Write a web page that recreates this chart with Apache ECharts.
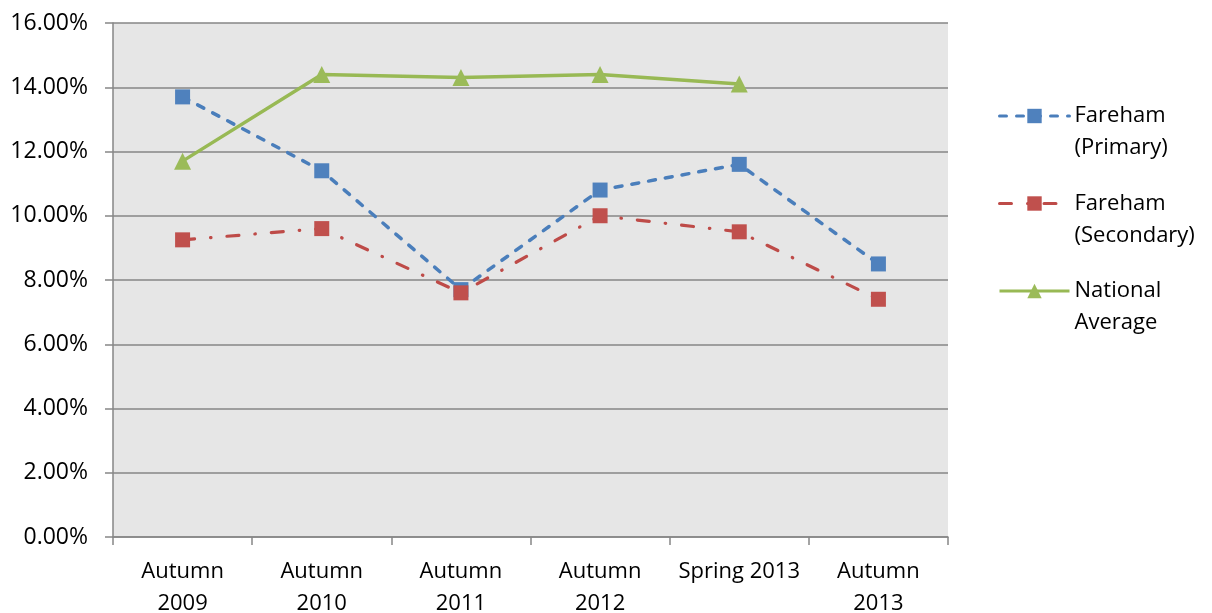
<!DOCTYPE html>
<html>
<head>
<meta charset="utf-8">
<script src="https://cdn.jsdelivr.net/npm/echarts@6/dist/echarts.min.js"></script>
<style>
  html, body { margin: 0; padding: 0; background: #ffffff; }
  #chart { width: 1212px; height: 613px; }
</style>
</head>
<body>
<div id="chart"></div>
<script>
// Survey periods along the x axis
const categories = ['Autumn\n2009', 'Autumn\n2010', 'Autumn\n2011', 'Autumn\n2012', 'Spring 2013', 'Autumn\n2013'];

// Rates in percent
const farehamPrimary   = [13.7, 11.4, 7.7, 10.8, 11.6, 8.5];
const farehamSecondary = [9.25, 9.6, 7.6, 10.0, 9.5, 7.4];
const nationalAverage  = [11.7, 14.4, 14.3, 14.4, 14.1, null];

// Series names as shown in the legend
const seriesNames = ['Fareham\n(Primary)', 'Fareham\n(Secondary)', 'National\nAverage'];

// Y axis range
const yMin = 0, yMax = 16, yStep = 2;

const FONT = 'Open Sans';
const AXIS_GRAY = '#868686';

const chart = echarts.init(document.getElementById('chart'), null, { renderer: 'canvas' });

chart.setOption({
  animation: false,
  backgroundColor: '#ffffff',
  grid: {
    left: 113, right: 264, top: 23, bottom: 76,
    outerBoundsMode: 'none',
    containLabel: false,
    show: true, backgroundColor: '#e6e6e6', borderWidth: 0
  },
  legend: {
    orient: 'vertical',
    left: 998, top: 68,
    padding: 0,
    itemWidth: 70, itemHeight: 18,
    itemGap: -8.5,
    selectedMode: false,
    lineStyle: { width: 3 },
    // a leading blank line puts the first line of each name level with its icon
    formatter: name => ' \n' + name,
    textStyle: {
      fontFamily: FONT, fontSize: 22, color: '#000000', lineHeight: 32
    },
    data: seriesNames
  },
  xAxis: {
    type: 'category',
    data: categories,
    boundaryGap: true,
    axisLine: { show: true, lineStyle: { color: AXIS_GRAY, width: 1.5 } },
    axisTick: { show: true, length: 8, alignWithLabel: false, lineStyle: { color: AXIS_GRAY, width: 1.5 } },
    axisLabel: {
      interval: 0, margin: 19,
      fontFamily: FONT, fontSize: 22, color: '#000000', lineHeight: 32, align: 'center'
    },
    splitLine: { show: false }
  },
  yAxis: {
    type: 'value',
    min: yMin, max: yMax, interval: yStep,
    axisLine: { show: true, lineStyle: { color: AXIS_GRAY, width: 1.5 } },
    axisTick: { show: true, length: 8, lineStyle: { color: AXIS_GRAY, width: 1.5 } },
    axisLabel: {
      margin: 25,
      fontFamily: FONT, fontSize: 23, color: '#000000',
      formatter: v => v.toFixed(2) + '%'
    },
    splitLine: { show: true, lineStyle: { color: AXIS_GRAY, width: 1.5 } }
  },
  series: [
    {
      name: seriesNames[0],
      type: 'line',
      data: farehamPrimary,
      symbol: 'rect', symbolSize: 15,
      itemStyle: { color: '#4f81bd' },
      lineStyle: { color: '#4a7ebb', width: 3.5, type: [7, 10], cap: 'round' },
      z: 2
    },
    {
      name: seriesNames[1],
      type: 'line',
      data: farehamSecondary,
      symbol: 'rect', symbolSize: 15,
      itemStyle: { color: '#c0504d' },
      lineStyle: { color: '#be4b48', width: 3.2, type: [12, 16, 0.5, 16], cap: 'round' },
      z: 3
    },
    {
      name: seriesNames[2],
      type: 'line',
      data: nationalAverage,
      symbol: 'triangle', symbolSize: 17,
      itemStyle: { color: '#9bbb59' },
      lineStyle: { color: '#98b954', width: 3.5, type: 'solid' },
      z: 4
    }
  ]
});
</script>
</body>
</html>
